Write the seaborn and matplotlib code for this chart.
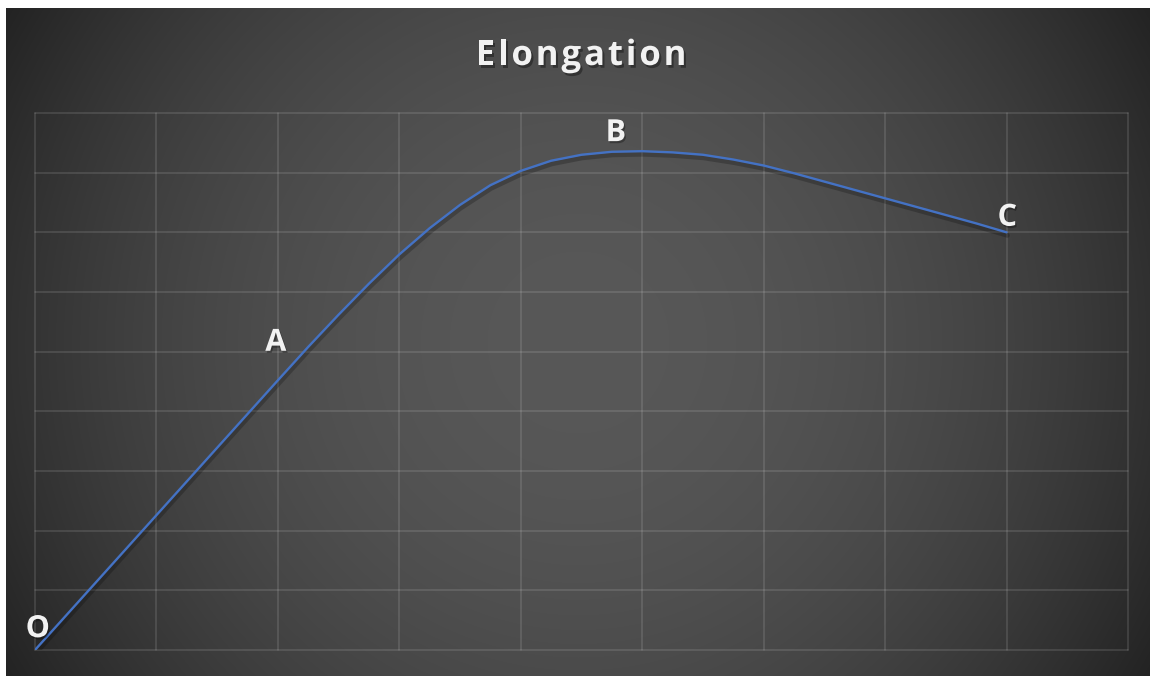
import numpy as np
import pandas as pd
import matplotlib
matplotlib.use("Agg")
import matplotlib.pyplot as plt
import matplotlib.patheffects as pe
import seaborn as sns

# Stress-strain style curve sampled along its length (strain, stress in grid units)
strain = [0.00, 0.50, 1.00, 1.50, 2.00, 2.25, 2.50, 2.75, 3.00, 3.25, 3.50,
          3.75, 4.00, 4.25, 4.50, 4.75, 5.00, 5.25, 5.50, 5.75, 6.00,
          6.25, 6.50, 6.75, 7.00, 7.25, 7.50, 7.75, 8.00]
stress = [0.00, 1.13, 2.26, 3.39, 4.52, 5.08, 5.62, 6.14, 6.63, 7.07, 7.46,
          7.79, 8.03, 8.20, 8.30, 8.35, 8.36, 8.34, 8.30, 8.22, 8.12,
          7.99, 7.85, 7.71, 7.57, 7.43, 7.29, 7.15, 7.00]

# Named points on the curve
point_names = ["O", "A", "B", "C"]
point_x = [0.0, 2.0, 5.0, 8.0]
point_y = [0.0, 4.52, 8.36, 7.0]

title_text = "Elongation"

W, H, DPI = 1150, 676, 100
sns.set_theme(style="dark")
plt.rcParams["font.family"] = ["Open Sans", "DejaVu Sans"]

fig = plt.figure(figsize=(W / DPI, H / DPI), dpi=DPI, facecolor="white")

# Radial gradient chart background
bx0, by_top = 6, 8
bw, bh = W - bx0, H - by_top
bg_ax = fig.add_axes([bx0 / W, 0, bw / W, bh / H])
yy, xx = np.mgrid[0:bh, 0:bw]
cx, cy = 572.0, 334.0
r = np.hypot(xx - cx, yy - cy) / 662.0
v = np.clip(88 - 53 * r ** 2, 30, 90) / 255.0
bg_ax.imshow(np.dstack([v, v, v]), aspect="auto", interpolation="bilinear",
             extent=(0, 1, 0, 1))
bg_ax.set_axis_off()

# Plot area
left, right, top, bottom = 35, 1128, 113, 650
ax = fig.add_axes([left / W, 1 - bottom / H, (right - left) / W, (bottom - top) / H])
ax.set_facecolor("none")
ax.set_xlim(0, 9)
ax.set_ylim(0, 9)
ax.set_xticks(range(0, 10))
ax.set_yticks(range(0, 10))
ax.tick_params(length=0, labelbottom=False, labelleft=False)
ax.grid(True, color="white", alpha=0.14, linewidth=1.1)
for gl in ax.get_xgridlines() + ax.get_ygridlines():
    gl.set_clip_on(False)
for s in ax.spines.values():
    s.set_visible(False)

df = pd.DataFrame({"strain": strain, "stress": stress})
sns.lineplot(data=df, x="strain", y="stress", sort=False, ax=ax,
             color="#4472C4", linewidth=1.7, estimator=None)
curve = ax.lines[-1]
curve.set_solid_capstyle("round")
curve.set_solid_joinstyle("round")
curve.set_path_effects([
    pe.SimpleLineShadow(offset=(0.6, -2.2), shadow_color="black", alpha=0.22, linewidth=3.5),
    pe.Normal(),
])
ax.set_xlabel("")
ax.set_ylabel("")

# Point labels with per-label offsets in points
label_offsets = {"O": (2, 15), "A": (-1.5, 27), "B": (-19, 13), "C": (0.5, 10.5)}
for name, px, py in zip(point_names, point_x, point_y):
    dx, dy = label_offsets[name]
    ax.annotate(name, (px, py), xytext=(dx, dy), textcoords="offset points",
                ha="center", va="center", fontsize=22, fontweight="bold",
                color="#f2f2f2", annotation_clip=False,
                path_effects=[pe.withSimplePatchShadow(offset=(1, -1.5),
                                                        shadow_rgbFace="black",
                                                        alpha=0.3)])

# Title drawn with extra letter spacing
title_kw = dict(fontsize=25, fontweight="bold", color="#f2f2f2", va="center", ha="left",
                path_effects=[pe.withSimplePatchShadow(offset=(1.5, -2),
                                                        shadow_rgbFace="black", alpha=0.35)])
renderer = fig.canvas.get_renderer()
probe = fig.text(0, 0, title_text, **title_kw)
prefix_w = []
for i in range(len(title_text) + 1):
    probe.set_text(title_text[:i] if i > 0 else "")
    prefix_w.append(probe.get_window_extent(renderer).width if i > 0 else 0.0)
probe.remove()
tracking = 2.9
total = prefix_w[-1] + tracking * (len(title_text) - 1)
x0 = 581 - total / 2
for i, ch in enumerate(title_text):
    fig.text((x0 + prefix_w[i] + tracking * i) / W, 1 - 56 / H, ch, **title_kw)

fig.savefig("out.png", dpi=DPI, facecolor="white")
